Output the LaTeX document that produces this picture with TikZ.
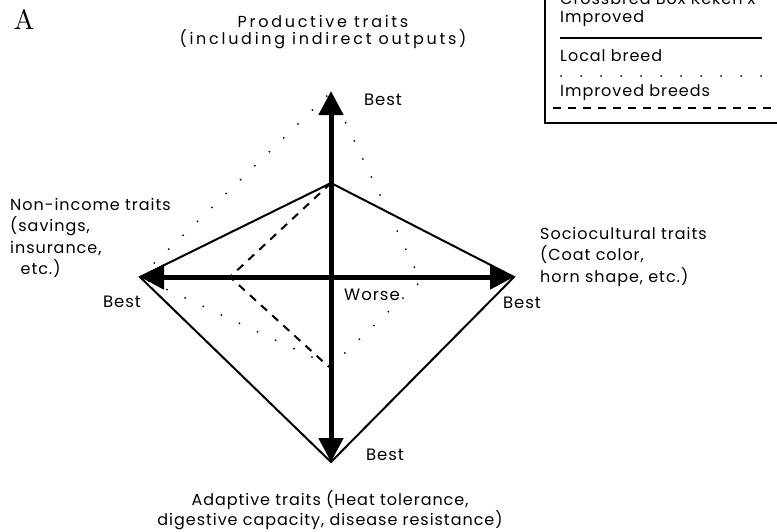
\documentclass[tikz,border=0pt]{standalone}
\usepackage{fontspec}
\setmainfont{Poppins}[LetterSpace=6]
\newfontfamily\widefont{Poppins}[LetterSpace=17]
\newfontfamily\panelfont{lmroman10-regular.otf}
\usetikzlibrary{arrows.meta}
\tikzset{
    trait/.style = {inner sep=0pt, font=\fontsize{16}{21.5}\selectfont},
    mark label/.style = {inner sep=0pt, font=\fontsize{16.5}{20}\selectfont},
    axis/.style = {line width=5pt, {Triangle[width=24pt,length=24pt]}-{Triangle[width=24pt,length=24pt]}},
    crossbred/.style = {line width=2pt, line join=miter},
    local/.style = {line width=2pt, line cap=round, dash pattern=on 0pt off 20pt},
    improved/.style = {line width=2pt, dash pattern=on 8pt off 7pt}
}
\begin{document}
\begin{tikzpicture}[x=1pt, y=-1pt]
    \useasboundingbox (0,0) rectangle (777,531);
    \clip (0,0) rectangle (777,531);
    % axes
    \coordinate (top) at (331,91);
    \coordinate (bottom) at (331,462);
    \coordinate (left) at (140,277);
    \coordinate (right) at (514,277);
    \coordinate (origin) at (331,277);
    % profile points
    \coordinate (cb top) at (331,183);
    \coordinate (loc top) at (331,92);
    \coordinate (loc right) at (421,281);
    \coordinate (loc bottom) at (331,366);
    \coordinate (imp left) at (230,277);
    \coordinate (imp bottom) at (329,367);

    \draw[crossbred] (cb top) -- (right) -- (bottom) -- (left) -- cycle;
    \draw[local] (left) -- (loc top) -- (loc right) -- (loc bottom) -- cycle;
    \draw[improved] (cb top) -- (imp left) -- (imp bottom);
    \draw[axis] (top) -- (bottom);
    \draw[axis] (left) -- (right);

    \node[inner sep=0pt, font=\panelfont\fontsize{28}{28}\selectfont] (letter) at (24,19) {A};
    \node[trait, align=center, font=\widefont\fontsize{16}{17}\selectfont] (prod) at (323,32) {Productive traits\\(including indirect outputs)};
    \node[trait, align=left, anchor=north west] (noninc) at (10,198) {Non-income traits\\(savings,\\insurance,\\\ \ etc.)};
    \node[trait, align=left, anchor=north west] (socio) at (540,227) {Sociocultural traits\\(Coat color,\\horn shape, etc.)};
    \node[trait, align=center, font=\fontsize{16}{20}\selectfont] (adapt) at (330,510) {Adaptive traits (Heat tolerance,\\digestive capacity, disease resistance)};

    \node[mark label] (best top) at (383,100) {Best};
    \node[mark label] (best left) at (122,302) {Best};
    \node[mark label] (best right) at (522,303) {Best};
    \node[mark label] (best bottom) at (385,455) {Best};
    \node[mark label] (worse) at (372,295) {Worse};

    % legend
    \draw[line width=2.5pt] (545,-20) rectangle (800,123);
    \node[trait, anchor=west] (leg cb) at (560,-1) {Crossbred Box Keken x};
    \node[trait, anchor=west] (leg cb2) at (560,19) {Improved};
    \coordinate (cb a) at (560,38);
    \coordinate (cb b) at (762,38);
    \draw[line width=2pt] (cb a) -- (cb b);
    \node[trait, anchor=west] (leg loc) at (560,56) {Local breed};
    \coordinate (loc a) at (561,76);
    \coordinate (loc b) at (770,76);
    \draw[local] (loc a) -- (loc b);
    \node[trait, anchor=west] (leg imp) at (560,93) {Improved breeds};
    \coordinate (imp a) at (553,108);
    \coordinate (imp b) at (777,108);
    \draw[improved] (imp a) -- (imp b);
\end{tikzpicture}
\end{document}
